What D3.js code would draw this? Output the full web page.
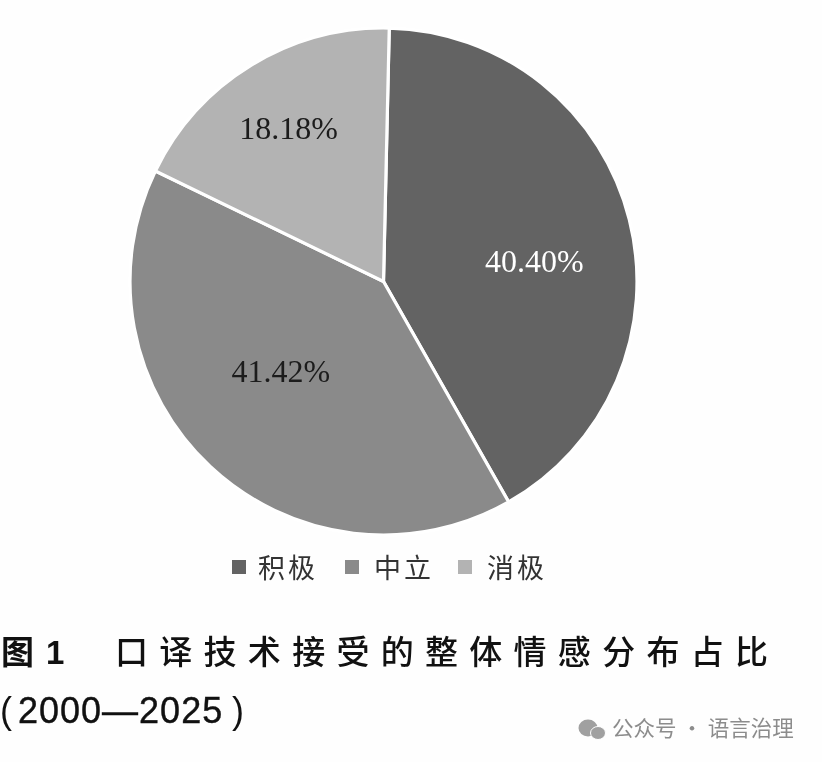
<!DOCTYPE html>
<html><head><meta charset="utf-8">
<script src="https://cdn.jsdelivr.net/npm/d3@7"></script>
<style>html,body{margin:0;padding:0;background:#fefefe}svg{display:block;filter:blur(0.55px)}</style>
</head><body><svg id="c" width="822" height="762"></svg>
<script>
// Slice sizes as drawn in the picture, and the labels as printed on it (they do not quite agree in the source).
const categories=["积极","中立","消极"];
const sliceValues=[41.42,40.40,18.18];
const labels=["40.40%","41.42%","18.18%"];
const colors=["#636363","#8a8a8a","#b3b3b3"];
const labelColors=["#fff","#1c1c1c","#1c1c1c"];
const titleChars=["口","译","技","术","接","受","的","整","体","情","感","分","布","占","比"];

const svg=d3.select("#c");
const cx=383.5,cy=281.5,r=253.5;
const start=1.3*Math.PI/180;
const pie=d3.pie().sort(null).startAngle(start).endAngle(start+2*Math.PI)(sliceValues);
const g=svg.append("g").attr("transform",`translate(${cx},${cy})`);
const arc=d3.arc().innerRadius(0).outerRadius(r);
g.selectAll("path").data(pie).join("path").attr("d",arc)
 .attr("fill",(d,i)=>colors[i]).attr("stroke","#fff").attr("stroke-width",3.2);

// Label placement in polar terms around the pie centre
const labelPlace=[[82.8,152],[228.5,137],[328.2,180]];
g.selectAll("text").data(pie).join("text")
 .each(function(d,i){
   const [x,y]=d3.pointRadial(labelPlace[i][0]*Math.PI/180,labelPlace[i][1]);
   d3.select(this).attr("x",x).attr("y",y+10);
 })
 .attr("text-anchor","middle").attr("font-family","Liberation Serif").attr("font-size",32)
 .attr("fill",(d,i)=>labelColors[i]).text((d,i)=>labels[i]);

const swatchX=[232,345,458], legendTextX=[258,374,487];
categories.forEach((c,i)=>{
 svg.append("rect").attr("x",swatchX[i]).attr("y",560).attr("width",14).attr("height",14).attr("fill",colors[i]);
 svg.append("text").attr("x",legendTextX[i]).attr("y",578).attr("font-family","Noto Sans CJK SC")
  .attr("font-size",27).attr("letter-spacing",3).attr("fill","#333").text(c);
});

svg.append("text").attr("x",1).attr("y",664).attr("font-family","Noto Sans CJK SC").attr("font-weight",700).attr("font-size",33).attr("fill","#111").text("图");
svg.append("text").attr("x",46).attr("y",664).attr("font-family","Liberation Sans").attr("font-weight",700).attr("font-size",33).attr("fill","#111").text("1");
const tx=d3.scaleLinear().domain([0,14]).range([115,735]);
titleChars.forEach((c,i)=>svg.append("text").attr("x",tx(i)).attr("y",664).attr("font-family","Noto Sans CJK SC").attr("font-weight",500).attr("font-size",33).attr("fill","#111").text(c));

const yr=svg.append("text").attr("y",723).attr("font-family","Liberation Sans").attr("font-size",36).attr("fill","#111");
yr.append("tspan").attr("x",0).text("(");
yr.append("tspan").attr("x",18).attr("letter-spacing",1).attr("stroke","#111").attr("stroke-width",0.4).text("2000—2025");
yr.append("tspan").attr("x",232).text(")");

svg.append("text").attr("x",612).attr("y",736).attr("font-family","Noto Sans CJK SC").attr("font-size",21.5).attr("fill","#8c8c8c").text("公众号 · 语言治理");
const w=svg.append("g").attr("fill","#a0a0a0");
w.append("ellipse").attr("cx",588).attr("cy",728).attr("rx",9.5).attr("ry",8.5);
w.append("ellipse").attr("cx",598).attr("cy",733).attr("rx",7.5).attr("ry",6.5).attr("stroke","#fefefe").attr("stroke-width",1);
</script></body></html>
